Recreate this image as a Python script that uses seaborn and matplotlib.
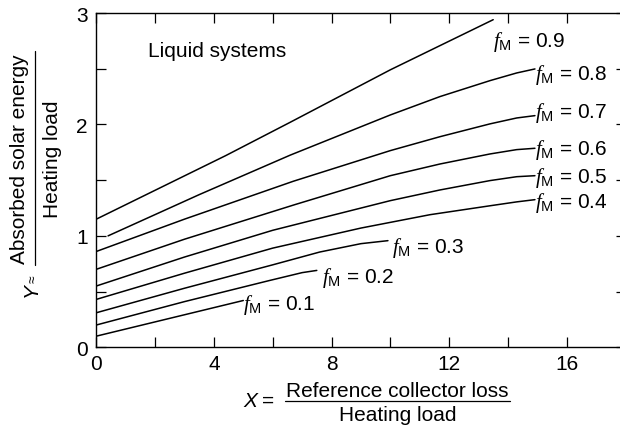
import matplotlib
matplotlib.use("Agg")
import matplotlib.pyplot as plt
import pandas as pd
import seaborn as sns
from matplotlib.lines import Line2D

# Solar fraction f_M curves: X (reference collector loss / heating load)
# against Y (absorbed solar energy / heating load) for liquid systems.
fm_levels = ["0.1", "0.2", "0.3", "0.4", "0.5", "0.6", "0.7", "0.8", "0.9"]

x_01 = [0.0, 2.5, 5.0]
y_01 = [0.10, 0.26, 0.42]

x_02 = [0.0, 3.0, 5.9, 7.0, 7.5]
y_02 = [0.20, 0.41, 0.60, 0.67, 0.69]

x_03 = [0.0, 3.0, 6.0, 7.6, 9.0, 9.92]
y_03 = [0.31, 0.53, 0.74, 0.855, 0.93, 0.957]

x_04 = [0.0, 3.0, 6.0, 9.0, 11.35, 13.39, 14.3, 14.92]
y_04 = [0.43, 0.665, 0.89, 1.07, 1.19, 1.27, 1.305, 1.325]

x_05 = [0.0, 3.0, 6.0, 10.0, 11.69, 13.39, 14.3, 14.92]
y_05 = [0.55, 0.81, 1.05, 1.316, 1.412, 1.496, 1.531, 1.54]

x_06 = [0.0, 3.0, 6.75, 10.0, 11.69, 13.39, 14.3, 14.92]
y_06 = [0.70, 0.97, 1.28, 1.54, 1.645, 1.735, 1.774, 1.786]

x_07 = [0.0, 3.0, 6.7, 10.0, 11.69, 13.39, 14.3, 14.92]
y_07 = [0.86, 1.15, 1.49, 1.765, 1.89, 2.005, 2.058, 2.079]

x_08 = [0.4, 3.5, 6.6, 10.0, 11.69, 13.39, 14.3, 14.92]
y_08 = [1.00, 1.37, 1.725, 2.085, 2.25, 2.393, 2.462, 2.498]

x_09 = [0.0, 4.4, 6.6, 10.0, 13.5]
y_09 = [1.15, 1.72, 2.02, 2.49, 2.94]

curve_x = [x_01, x_02, x_03, x_04, x_05, x_06, x_07, x_08, x_09]
curve_y = [y_01, y_02, y_03, y_04, y_05, y_06, y_07, y_08, y_09]

x_ticks = [0, 4, 8, 12, 16]
x_minor = [2, 6, 10, 14]
y_ticks = [0, 1, 2, 3]
y_minor = [0.5, 1.5, 2.5]

rows = []
for fm, xs, ys in zip(fm_levels, curve_x, curve_y):
    for xv, yv in zip(xs, ys):
        rows.append({"X": xv, "Y": yv, "fM": fm})
df = pd.DataFrame(rows)

sns.set_style("ticks")
plt.rcParams["font.family"] = ["Liberation Sans", "DejaVu Sans"]
plt.rcParams["mathtext.fontset"] = "custom"
plt.rcParams["mathtext.it"] = "Liberation Serif:italic"
plt.rcParams["mathtext.rm"] = "Liberation Sans"
plt.rcParams["text.color"] = "black"
plt.rcParams["xtick.color"] = "black"
plt.rcParams["ytick.color"] = "black"
plt.rcParams["axes.labelcolor"] = "black"
FS = 15

W, H = 620, 427
fig = plt.figure(figsize=(W / 100, H / 100), dpi=100)
ax = fig.add_axes([96.3 / W, 1 - 348.3 / H, 529.2 / W, 334.3 / H])

sns.lineplot(data=df, x="X", y="Y", hue="fM", units="fM", estimator=None,
             sort=False, palette={k: "black" for k in fm_levels},
             legend=False, linewidth=1.1, ax=ax)

ax.set_xlim(0, 18)
ax.set_ylim(0, 3)
ax.set_xticks(x_ticks)
ax.set_xticks(x_minor, minor=True)
ax.set_yticks(y_ticks)
ax.set_yticks(y_minor, minor=True)
ax.set_xticklabels([str(v) for v in x_ticks], fontsize=FS, color="black")
ax.set_yticklabels([str(v) for v in y_ticks], fontsize=FS, color="black")
ax.tick_params(which="both", direction="in", length=7.5, width=0.9,
               top=True, right=True, color="black")
ax.tick_params(axis="x", which="major", pad=5)
ax.tick_params(axis="y", which="major", pad=6)
ax.set_xlabel("")
ax.set_ylabel("")
for s in ax.spines.values():
    s.set_visible(True)
    s.set_linewidth(1.0)
    s.set_color("black")

# curve labels (left edge, baseline) in data coordinates
label_pos = {
    "0.1": (5.00, 0.344), "0.2": (7.67, 0.589), "0.3": (10.05, 0.853),
    "0.4": (14.92, 1.259), "0.5": (14.92, 1.487), "0.6": (14.92, 1.735),
    "0.7": (14.92, 2.067), "0.8": (14.92, 2.408), "0.9": (13.49, 2.707),
}
for fm in fm_levels:
    lx, ly = label_pos[fm]
    ax.text(lx, ly, r"$f_{\mathrm{M}}$" + " = " + fm, fontsize=FS,
            ha="left", va="baseline", clip_on=False, color="black")

ax.text(148, H - 57, "Liquid systems", fontsize=FS, ha="left",
        va="baseline", transform=None, color="black")


def fx(px):
    return px / W


def fy(py):
    return 1 - py / H


# y-axis label: Y ≈ fraction
fig.text(fx(37), fy(290), "Y", fontsize=FS, style="italic", rotation=90,
         rotation_mode="anchor", ha="center", va="baseline")
fig.text(fx(33), fy(279), "≈", fontsize=10, rotation=90,
         rotation_mode="anchor", ha="center", va="center")
fig.text(fx(25), fy(159), "Absorbed solar energy", fontsize=FS, rotation=90,
         rotation_mode="anchor", ha="center", va="baseline")
fig.add_artist(Line2D([fx(35), fx(35)], [fy(52), fy(266)], color="black",
                      linewidth=0.9, transform=fig.transFigure))
fig.text(fx(58), fy(159), "Heating load", fontsize=FS, rotation=90,
         rotation_mode="anchor", ha="center", va="baseline")

# x-axis label: X = fraction
fig.text(fx(243), fy(407), "X", fontsize=FS, style="italic",
         ha="left", va="baseline")
fig.text(fx(262), fy(407), "=", fontsize=FS, ha="left", va="baseline")
fig.text(fx(397.5), fy(397), "Reference collector loss", fontsize=FS,
         ha="center", va="baseline")
fig.add_artist(Line2D([fx(285), fx(510)], [fy(401.7), fy(401.7)],
                      color="black", linewidth=0.9,
                      transform=fig.transFigure))
fig.text(fx(397.5), fy(421), "Heating load", fontsize=FS,
         ha="center", va="baseline")

fig.savefig("out.png", dpi=100)
